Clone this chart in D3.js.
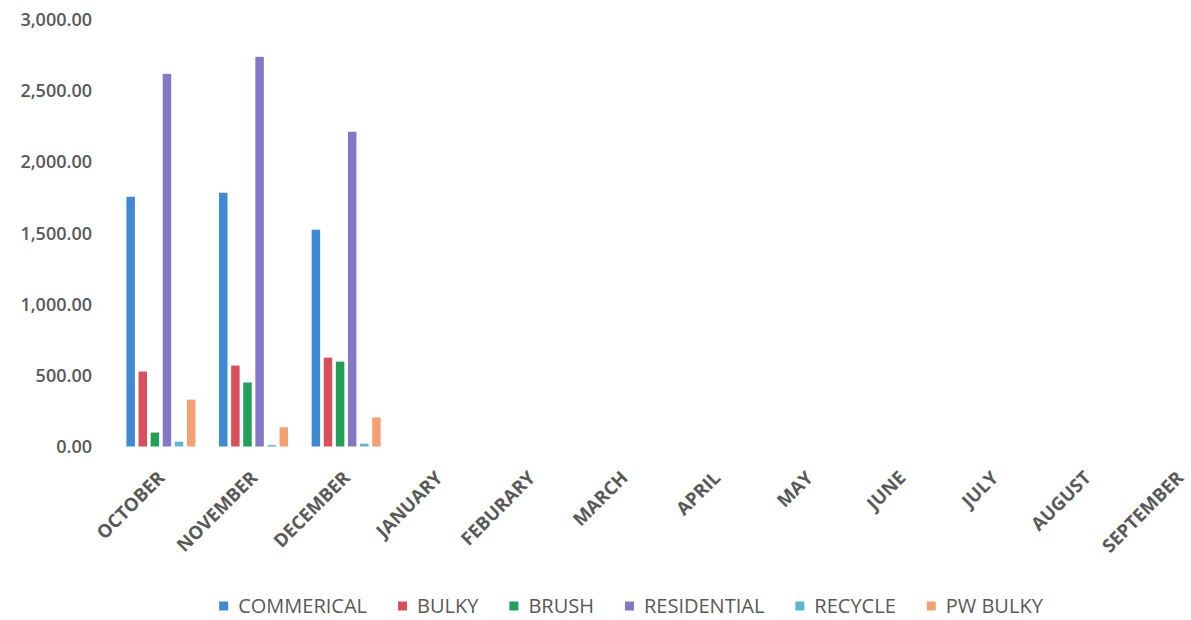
<!DOCTYPE html>
<html>
<head>
<meta charset="utf-8">
<script src="https://cdn.jsdelivr.net/npm/d3@7"></script>
<style>
  html, body { margin: 0; padding: 0; background: #fff; }
  svg { display: block; }
  text { font-family: "Open Sans", "Lato", sans-serif; fill: #595959; }
</style>
</head>
<body>
<svg id="chart" width="1191" height="620"></svg>
<script>
const months = ["OCTOBER","NOVEMBER","DECEMBER","JANUARY","FEBURARY","MARCH","APRIL","MAY","JUNE","JULY","AUGUST","SEPTEMBER"];
const seriesNames = ["COMMERICAL","BULKY","BRUSH","RESIDENTIAL","RECYCLE","PW BULKY"];
const seriesColors = ["#3f8bd3","#d9505c","#22a05a","#8676c6","#5cb6d4","#f5a072"];
const commerical  = [1757, 1785, 1525, null, null, null, null, null, null, null, null, null];
const bulky       = [527, 569, 625, null, null, null, null, null, null, null, null, null];
const brush       = [98, 450, 597, null, null, null, null, null, null, null, null, null];
const residential = [2621, 2741, 2214, null, null, null, null, null, null, null, null, null];
const recycle     = [34, 10, 20, null, null, null, null, null, null, null, null, null];
const pwBulky     = [330, 135, 204, null, null, null, null, null, null, null, null, null];
const yTicks = [0, 500, 1000, 1500, 2000, 2500, 3000];

const seriesValues = [commerical, bulky, brush, residential, recycle, pwBulky];

const svg = d3.select("#chart");

const x0 = d3.scaleBand().domain(months).range([114.6, 1226]).padding(0);
const x1 = d3.scaleBand().domain(seriesNames).range([10, x0.bandwidth() - 10]).paddingInner(0.3).paddingOuter(0.15);
const y = d3.scaleLinear().domain([0, 3000]).range([446.5, 20]);

// Y axis labels
const yAxis = d3.axisLeft(y).tickValues(yTicks).tickSize(0).tickPadding(0)
  .tickFormat(d => d3.format(",.2f")(d));
const yG = svg.append("g").attr("transform", "translate(92,0)").call(yAxis);
yG.select(".domain").remove();
yG.selectAll("text")
  .style("font-size", "18px").style("font-weight", "600")
  .style("font-family", "'Open Sans', sans-serif").attr("fill", "#595959");

// Bars
const groups = svg.append("g").selectAll("g")
  .data(months).join("g")
  .attr("transform", d => `translate(${x0(d)},0)`);

groups.selectAll("rect")
  .data((m, i) => seriesNames.map((s, k) => ({ s, k, v: seriesValues[k][i] })).filter(d => d.v != null))
  .join("rect")
  .attr("x", d => x1(d.s))
  .attr("width", x1.bandwidth())
  .attr("y", d => y(d.v))
  .attr("height", d => y(0) - y(d.v))
  .attr("fill", d => seriesColors[d.k]);

// X axis labels
const xAxis = d3.axisBottom(x0).tickSize(0).tickPadding(0);
const xG = svg.append("g").attr("transform", "translate(0,479)").call(xAxis);
xG.select(".domain").remove();
xG.selectAll("text")
  .attr("transform", "translate(5,0) rotate(-45)")
  .attr("text-anchor", "end")
  .attr("dy", "0")
  .attr("y", 0)
  .style("font-size", "18.5px").style("font-weight", "700")
  .style("font-family", "'Open Sans', sans-serif").attr("fill", "#595959");

// Legend
const legend = svg.append("g");
const items = legend.selectAll("g").data(seriesNames).join("g");
items.append("rect")
  .attr("x", 0).attr("y", -4.5).attr("width", 9).attr("height", 9)
  .attr("fill", (d, i) => seriesColors[i]);
items.append("text")
  .attr("x", 19).attr("y", 0).attr("dy", "0.36em")
  .style("font-size", "20px")
  .text(d => d);
let cx = 0;
const offsets = [];
items.each(function () {
  offsets.push(cx);
  const w = d3.select(this).select("text").node().getComputedTextLength();
  cx += 19 + w + 31;
});
const total = cx - 31;
const startX = 631 - total / 2;
items.attr("transform", (d, i) => `translate(${startX + offsets[i]},606)`);
</script>
</body>
</html>
